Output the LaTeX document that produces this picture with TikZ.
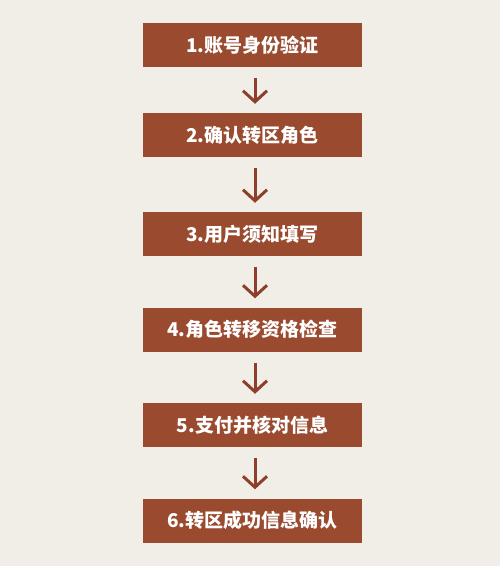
\documentclass[tikz,border=0pt]{standalone}
\usepackage{fontspec}
\newfontfamily\cjk{Noto Sans CJK SC}
\usepackage{tikz}
\usetikzlibrary{arrows.meta}

\definecolor{hartie}{HTML}{F1EEE8}
\definecolor{caramiziu}{HTML}{9A4A2F}
\definecolor{sageata}{HTML}{8E3F2A}

\begin{document}
\begin{tikzpicture}[x=1pt, y=-1pt]
        \tikzstyle{every node} = [font=\cjk\bfseries\fontsize{19}{22}\selectfont]
        \tikzstyle{pas}        = [rectangle, fill=caramiziu, text=white, minimum width=219pt, minimum height=44pt, inner sep=0pt]
        \tikzstyle{pijl}       = [draw=sageata, line width=3pt, -{Straight Barb[length=11pt, width=24pt]}, shorten <=11pt, shorten >=9pt]

        \fill[hartie] (0,0) rectangle (500,566);
        \useasboundingbox (0,0) rectangle (500,566);

        \node[pas] (p1) at (252.5, 45.0) {1.账号身份验证};
        \node[pas] (p2) at (252.5,135.0) {2.确认转区角色};
        \node[pas] (p3) at (252.5,234.0) {3.用户须知填写};
        \node[pas] (p4) at (252.5,329.5) {4.角色转移资格检查};
        \node[pas] (p5) at (252.5,425.0) {5.支付并核对信息};
        \node[pas] (p6) at (252.5,520.5) {6.转区成功信息确认};

        % Sagetile dintre pasi.
        \draw[pijl] ([xshift=2.5pt]p1.south) -- ([xshift=2.5pt]p2.north);
        \draw[pijl] ([xshift=2.5pt]p2.south) -- ([xshift=2.5pt]p3.north);
        \draw[pijl] ([xshift=2.5pt]p3.south) -- ([xshift=2.5pt]p4.north);
        \draw[pijl] ([xshift=2.5pt]p4.south) -- ([xshift=2.5pt]p5.north);
        \draw[pijl] ([xshift=2.5pt]p5.south) -- ([xshift=2.5pt]p6.north);
    \end{tikzpicture}
\end{document}
